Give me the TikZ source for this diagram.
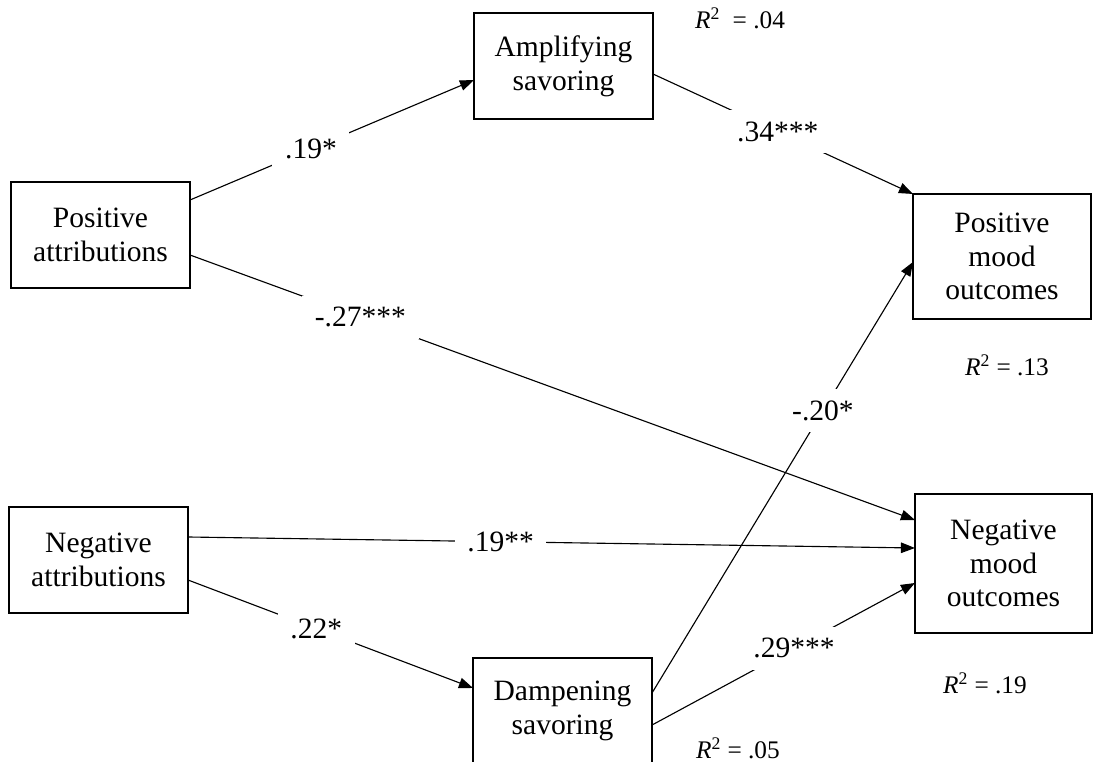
\documentclass[tikz,border=0pt]{standalone}
\usepackage{fontspec}
\setmainfont{Liberation Serif}
\usetikzlibrary{arrows.meta}

\begin{document}
\begin{tikzpicture}[x=0.025cm,y=-0.025cm,inner sep=0pt,outer sep=0pt,line width=0.8pt,
varblock/.style={draw,rectangle,align=center,minimum width=4.475cm,minimum height=2.65cm,font=\fontsize{21}{24}\selectfont},
coef/.style={fill=white,inner xsep=9pt,inner ysep=8pt,font=\fontsize{21}{24}\selectfont},
rsq/.style={font=\fontsize{18}{21}\selectfont},
path/.style={-{Triangle[length=10pt,width=7.5pt]}}]

\useasboundingbox (0,0) rectangle (1093,762);
\clip (0,0) rectangle (1093,762);

\draw (100.5,235) node[varblock] (posattr) {Positive\\attributions};
\draw (98.5,560) node[varblock] (negattr) {Negative\\attributions};
\draw (563.5,66) node[varblock] (ampsav) {Amplifying\\savoring};
\draw (562.5,711) node[varblock] (dampsav) {Dampening\\savoring};
\draw (1002,256.5) node[varblock,minimum width=4.45cm,minimum height=3.125cm] (posmood) {Positive\\mood\\outcomes};
\draw (1003.5,563.5) node[varblock,minimum width=4.425cm,minimum height=3.475cm] (negmood) {Negative\\mood\\outcomes};

\draw (740,18) node[rsq] (r2amp) {\textit{R}\textsuperscript{2} \ = .04};
\draw (1007,365) node[rsq] (r2pos) {\textit{R}\textsuperscript{2} = .13};
\draw (985,683) node[rsq] (r2neg) {\textit{R}\textsuperscript{2} = .19};
\draw (738,748) node[rsq] (r2damp) {\textit{R}\textsuperscript{2} = .05};

\draw[path] ([yshift=0.875cm]posattr.east) -- node[coef,pos=.426] {.19*} ([yshift=-0.35cm]ampsav.west);
\draw[path] ([yshift=-0.2cm]ampsav.east) -- node[coef,pos=.48] {.34***} (posmood.north west);
\draw[path] ([yshift=-0.5cm]posattr.east) -- node[coef,pos=.235] {-.27***} ([yshift=1.0875cm]negmood.west);
\draw[path] ([yshift=0.575cm]negattr.east) -- node[coef,pos=.43] {.19**} ([yshift=0.3875cm]negmood.west);
\draw[path] ([yshift=-0.5cm]negattr.east) -- node[coef,pos=.45] {.22*} ([yshift=0.575cm]dampsav.west);
\draw[path] ([yshift=0.45cm]dampsav.east) -- node[coef,pos=.655] {-.20*} ([yshift=-0.1375cm]posmood.west);
\draw[path] ([yshift=-0.35cm]dampsav.east) -- node[coef,pos=.54] {.29***} ([yshift=-0.4875cm]negmood.west);
\end{tikzpicture}
\end{document}
